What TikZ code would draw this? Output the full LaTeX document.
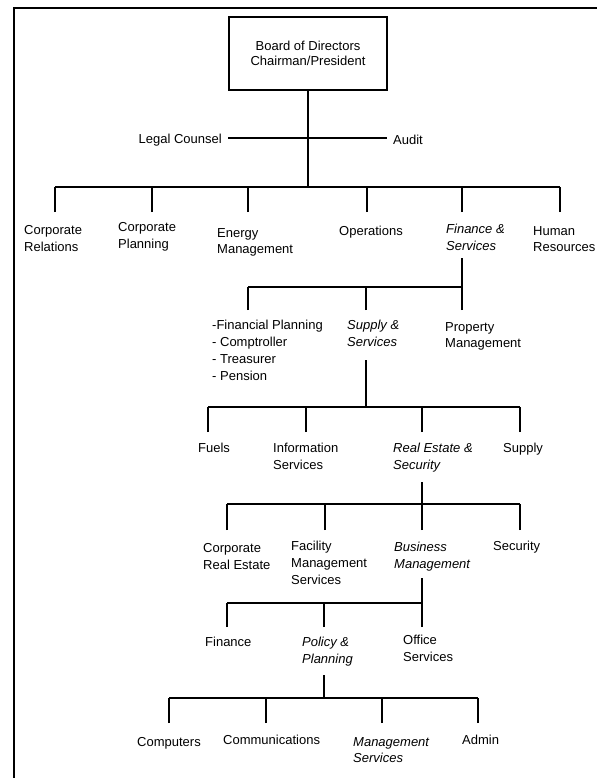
\documentclass[tikz,border=0pt]{standalone}
\usepackage{fontspec}
\setmainfont{Liberation Sans}
\begin{document}
\begin{tikzpicture}[x=1pt,y=-1pt,
  lbl/.style={anchor=north west,inner sep=0pt,align=left,font=\fontsize{13}{16.8}\selectfont},
  ital/.style={lbl,font=\fontsize{13}{16.8}\selectfont\itshape},
  wire/.style={line width=1.6pt},
  frameline/.style={line width=2.4pt}]
\useasboundingbox (0,0) rectangle (597,778);

% page frame (top and left rules)
\coordinate (fr-bl) at (14,778);
\coordinate (fr-tl) at (14,8);
\coordinate (fr-tr) at (597,8);
\draw[frameline] (fr-bl) -- (fr-tl) -- (fr-tr);

% top of the organisation
\node[draw,line width=1.6pt,minimum width=158pt,minimum height=73pt,align=center,
      font=\fontsize{13}{14.5}\selectfont] (board) at (308,53.5) {Board of Directors\\Chairman/President};
\node[anchor=east,inner sep=0pt,font=\fontsize{13}{16.8}\selectfont] (legal) at (222,140) {Legal Counsel};
\node[anchor=west,inner sep=0pt,font=\fontsize{13}{16.8}\selectfont] (audit) at (393,140) {Audit};
\coordinate (staff-w) at (228,138);
\coordinate (staff-e) at (387,138);
\draw[wire] (staff-w) -- (staff-e);

% level 1
\coordinate (b1w) at (55,187);
\coordinate (b1e) at (560,187);
\draw[wire] (board.south) -- (board.south |- b1w);
\draw[wire] (b1w) -- (b1e);
\node[lbl]  (crel)   at (24,225)  {Corporate\\Relations};
\node[lbl]  (cplan)  at (118,222) {Corporate\\Planning};
\node[lbl]  (energy) at (217,228) {Energy\\Management};
\node[lbl]  (ops)    at (339,226) {Operations};
\node[ital] (fin)    at (446,224) {Finance \&\\Services};
\node[lbl]  (hr)     at (533,226) {Human\\Resources};
\coordinate (crel-in)   at (55,212);
\coordinate (cplan-in)  at (152,212);
\coordinate (energy-in) at (248,212);
\coordinate (ops-in)    at (367,212);
\coordinate (fin-in)    at (462,212);
\coordinate (hr-in)     at (560,212);
\foreach \n in {crel,cplan,energy,ops,fin,hr}
  \draw[wire] (\n-in) -- (\n-in |- b1w);

% level 2: Finance & Services
\coordinate (fin-out) at (462,258);
\coordinate (b2w) at (248,287);
\coordinate (b2e) at (462,287);
\draw[wire] (fin-out) -- (b2e) -- (b2w);
\node[lbl]  (fplan)  at (212,320) {-Financial Planning\\- Comptroller\\- Treasurer\\- Pension};
\node[ital] (supsvc) at (347,320) {Supply \&\\Services};
\node[lbl]  (prop)   at (445,322) {Property\\Management};
\coordinate (fplan-in)  at (248,310);
\coordinate (supsvc-in) at (366,310);
\coordinate (prop-in)   at (462,310);
\foreach \n in {fplan,supsvc,prop}
  \draw[wire] (\n-in) -- (\n-in |- b2w);

% level 3: Supply & Services
\coordinate (supsvc-out) at (366,360);
\coordinate (b3w) at (208,407);
\coordinate (b3e) at (520,407);
\draw[wire] (supsvc-out) -- (supsvc-out |- b3w);
\draw[wire] (b3w) -- (b3e);
\node[lbl]  (fuels)   at (198,443) {Fuels};
\node[lbl]  (info)    at (273,443) {Information\\Services};
\node[ital] (realest) at (393,443) {Real Estate \&\\Security};
\node[lbl]  (supply)  at (503,443) {Supply};
\coordinate (fuels-in)   at (208,432);
\coordinate (info-in)    at (306,432);
\coordinate (realest-in) at (422,432);
\coordinate (supply-in)  at (520,432);
\foreach \n in {fuels,info,realest,supply}
  \draw[wire] (\n-in) -- (\n-in |- b3w);

% level 4: Real Estate & Security
\coordinate (realest-out) at (422,482);
\coordinate (b4w) at (227,504);
\coordinate (b4e) at (520,504);
\draw[wire] (realest-out) -- (realest-out |- b4w);
\draw[wire] (b4w) -- (b4e);
\node[lbl]  (corpre)   at (203,543) {Corporate\\Real Estate};
\node[lbl]  (facil)    at (291,541) {Facility\\Management\\Services};
\node[ital] (busmgmt)  at (394,542) {Business\\Management};
\node[lbl]  (security) at (493,541) {Security};
\coordinate (corpre-in)   at (227,530);
\coordinate (facil-in)    at (325,530);
\coordinate (busmgmt-in)  at (422,530);
\coordinate (security-in) at (520,530);
\foreach \n in {corpre,facil,busmgmt,security}
  \draw[wire] (\n-in) -- (\n-in |- b4w);

% level 5: Business Management
\coordinate (busmgmt-out) at (422,578);
\coordinate (b5w) at (227,603);
\coordinate (b5e) at (422,603);
\draw[wire] (busmgmt-out) -- (b5e) -- (b5w);
\node[lbl]  (finance) at (205,637) {Finance};
\node[ital] (policy)  at (302,637) {Policy \&\\Planning};
\node[lbl]  (office)  at (403,635) {Office\\Services};
\coordinate (finance-in) at (227,627);
\coordinate (policy-in)  at (324,627);
\coordinate (office-in)  at (422,627);
\foreach \n in {finance,policy,office}
  \draw[wire] (\n-in) -- (\n-in |- b5w);

% level 6: Policy & Planning
\coordinate (policy-out) at (324,675);
\coordinate (b6w) at (169,698);
\coordinate (b6e) at (478,698);
\draw[wire] (policy-out) -- (policy-out |- b6w);
\draw[wire] (b6w) -- (b6e);
\node[lbl]  (computers) at (137,737) {Computers};
\node[lbl]  (comms)     at (223,735) {Communications};
\node[ital] (mgmtsvc)   at (353,737) {Management\\Services};
\node[lbl]  (admin)     at (462,735) {Admin};
\coordinate (computers-in) at (169,723);
\coordinate (comms-in)     at (266,723);
\coordinate (mgmtsvc-in)   at (382,723);
\coordinate (admin-in)     at (478,723);
\foreach \n in {computers,comms,mgmtsvc,admin}
  \draw[wire] (\n-in) -- (\n-in |- b6w);
\end{tikzpicture}
\end{document}
